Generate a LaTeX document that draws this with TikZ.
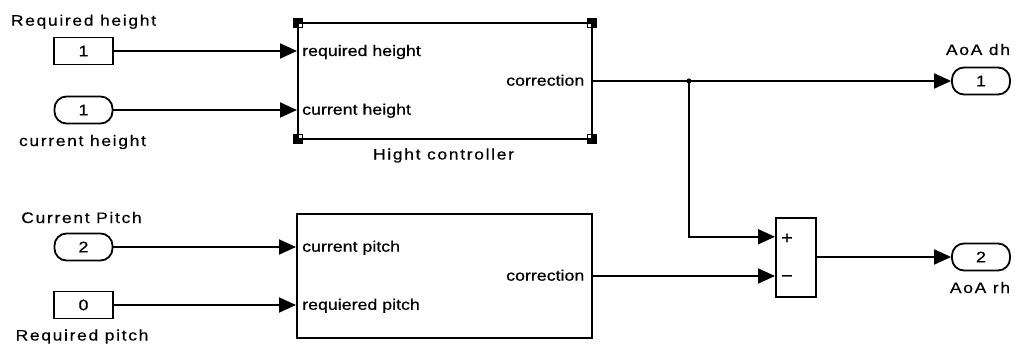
\documentclass[tikz,border=0pt]{standalone}
\usepackage{fontspec}
\setmainfont{Liberation Sans}
\newfontfamily\portfont[FakeStretch=1.17,FakeBold=0.6]{Liberation Sans}
\newfontfamily\tagfont[FakeStretch=1.15,LetterSpace=11,FakeBold=0.5]{Liberation Sans}
\usetikzlibrary{arrows.meta,calc}

\tikzset{
  portlabel/.style={inner sep=0pt, font=\portfont\fontsize{15.2}{17}\selectfont},
  taglabel/.style={inner sep=0pt, font=\tagfont\fontsize{15.2}{17}\selectfont},
  signlabel/.style={inner sep=0pt, font=\portfont\fontsize{17}{19}\selectfont},
  sysblock/.style={draw, line width=2pt, fill=white, inner sep=0pt},
  constblock/.style={draw, line width=1.8pt, fill=white, minimum width=59pt,
    minimum height=27pt, inner sep=0pt, font=\portfont\fontsize{15.2}{17}\selectfont},
  ioblock/.style={constblock, rounded corners=12pt, minimum width=58pt},
  wire/.style={line width=1.9pt, -{Triangle[length=17pt,width=15pt]}},
  plainwire/.style={line width=1.9pt},
}

\begin{document}
\begin{tikzpicture}[x=1pt,y=-1pt]
\useasboundingbox (0,0) rectangle (1018,345);

% ---- subsystem blocks ----
\node[sysblock, minimum width=294pt, minimum height=116pt] (hc) at (445,81) {};
\node[sysblock, minimum width=295pt, minimum height=124pt] (pb) at (444.5,276) {};
\node[sysblock, minimum width=40pt, minimum height=79pt] (sum) at (796,257) {};

% mask corner markers of the height controller
\foreach \cx/\cy/\dx/\dy in {298/23/1/1, 592/23/-1/1, 298/139/1/-1, 592/139/-1/-1}{
  \fill[black] (\cx-4.7,\cy-4.7) rectangle (\cx+4.7,\cy+4.7);
  \fill[white] (\cx+1.3*\dx,\cy+1.3*\dy) rectangle (\cx+3.6*\dx,\cy+3.6*\dy);
}

% ---- sources and sinks ----
\node[constblock] (c1) at (83.5,51) {1};
\node[ioblock] (in1) at (83.5,110) {1};
\node[ioblock] (in2) at (83.5,247) {2};
\node[constblock] (c0) at (83.5,305) {0};
\node[ioblock] (out1) at (981,81) {1};
\node[ioblock] (out2) at (981,257) {2};

% ---- block captions ----
\node[taglabel, anchor=base] (t-reqh) at (83.5,25.7) {Required height};
\node[taglabel, anchor=base] (t-curh) at (82.5,146) {current height};
\node[taglabel, anchor=base] (t-curp) at (81.5,223) {Current Pitch};
\node[taglabel, anchor=base] (t-reqp) at (82,340.5) {Required pitch};
\node[taglabel, anchor=base] (t-hc) at (443.5,159.5) {Hight controller};
\node[taglabel, anchor=base] (t-dh) at (978,55) {AoA dh};
\node[taglabel, anchor=base] (t-rh) at (980,293) {AoA rh};

% ---- port labels ----
\node[portlabel, anchor=base west] (p-hc1) at (302,56) {required height};
\node[portlabel, anchor=base west] (p-hc2) at (302,114.7) {current height};
\node[portlabel, anchor=base east] (p-hco) at (584.5,85.7) {correction};
\node[portlabel, anchor=base west] (p-pb1) at (302,251.7) {current pitch};
\node[portlabel, anchor=base west] (p-pb2) at (302,309.8) {requiered pitch};
\node[portlabel, anchor=base east] (p-pbo) at (584.5,280.7) {correction};
\node[signlabel, anchor=base] (p-plus) at (787,243.5) {+};
\node[signlabel, anchor=base] (p-minus) at (787,281.5) {−};

% ---- connections ----
\coordinate (plusin) at ($(sum.north west)!0.25!(sum.south west)$);
\coordinate (j) at (689,81);

\draw[wire] (c1.east) -- (c1.east -| hc.west);
\draw[wire] (in1.east) -- (in1.east -| hc.west);
\draw[wire] (in2.east) -- (in2.east -| pb.west);
\draw[wire] (c0.east) -- (c0.east -| pb.west);
\draw[plainwire] (hc.east) -- (j);
\draw[wire] (j) -- (out1.west);
\draw[wire] (j) |- (plusin);
\draw[wire] (pb.east) -- (pb.east -| sum.west);
\draw[wire] (sum.east) -- (out2.west);
\fill (j) circle (2.6pt);
\end{tikzpicture}
\end{document}
